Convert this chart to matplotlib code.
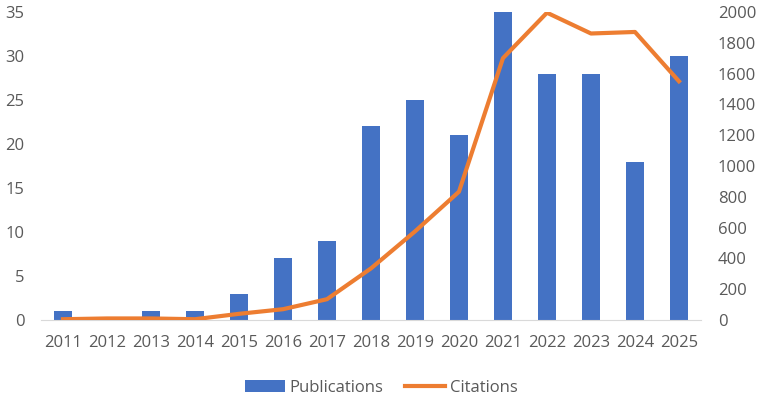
import matplotlib
matplotlib.use("Agg")
from matplotlib import pyplot as plt
import numpy as np

years = [str(y) for y in range(2011, 2026)]
publications = [1, 0, 1, 1, 3, 7, 9, 22, 25, 21, 35, 28, 28, 18, 30]
citations = [5, 10, 10, 5, 40, 70, 135, 335, 575, 833, 1700, 1995, 1860, 1870, 1550]

plt.rcParams['font.family'] = ['Open Sans', 'DejaVu Sans']
txt = '#595959'

fig = plt.figure(figsize=(7.63, 3.98), dpi=100)
ax = fig.add_axes([0.0537, 0.196, 0.865, 0.774])
x = np.arange(len(years))
ax.bar(x, publications, width=0.41, color='#4472C4', label='Publications', zorder=2)
ax.set_xlim(-0.5, len(years) - 0.5)
ax.set_ylim(0, 35)
ax.set_yticks(range(0, 36, 5))
ax.set_xticks(x)
ax.set_xticklabels(years)

ax2 = ax.twinx()
ax2.plot(x, citations, color='#ED7D31', lw=3, label='Citations', zorder=3,
         solid_joinstyle='round')
ax2.set_ylim(0, 2000)
ax2.set_yticks(range(0, 2001, 200))

for a in (ax, ax2):
    for s in a.spines.values():
        s.set_visible(False)
    a.tick_params(length=0, labelsize=12, colors=txt, pad=12)
ax.spines['bottom'].set_visible(True)
ax.spines['bottom'].set_color('#d9d9d9')
ax.tick_params(axis='x', pad=11)

h1, l1 = ax.get_legend_handles_labels()
h2, l2 = ax2.get_legend_handles_labels()
fig.legend(h1 + h2, l1 + l2, loc='center', bbox_to_anchor=(0.5, 0.025), ncol=2,
           frameon=False, fontsize=12, labelcolor=txt, handlelength=2.4,
           columnspacing=1.3, handletextpad=0.3)

fig.savefig('out.png', dpi=100)
